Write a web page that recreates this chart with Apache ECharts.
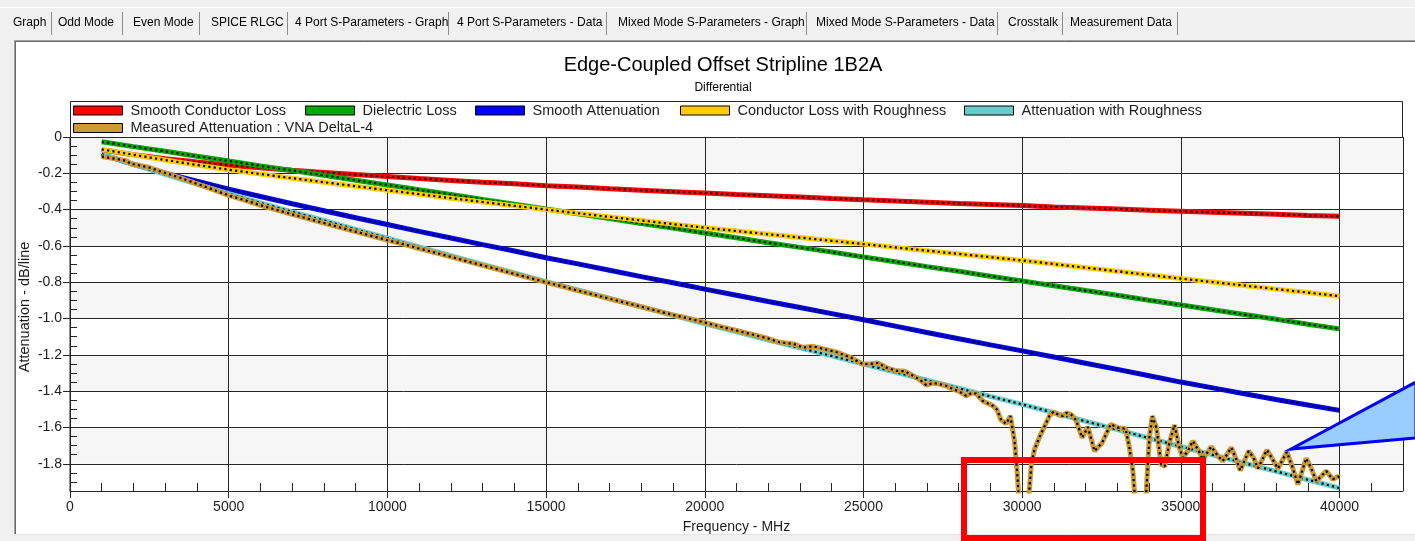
<!DOCTYPE html>
<html>
<head>
<meta charset="utf-8">
<script src="https://cdn.jsdelivr.net/npm/echarts@6/dist/echarts.min.js"></script>
<style>
html,body{margin:0;padding:0;background:#fff;}
#chart{width:1415px;height:541px;}
</style>
</head>
<body>
<div id="chart"></div>
<script>
// ---- tab strip ----
const tabLabels = ['Graph', 'Odd Mode', 'Even Mode', 'SPICE RLGC', '4 Port S-Parameters - Graph',
  '4 Port S-Parameters - Data', 'Mixed Mode S-Parameters - Graph', 'Mixed Mode S-Parameters - Data',
  'Crosstalk', 'Measurement Data'];

// ---- chart text ----
const chartTitle = 'Edge-Coupled Offset Stripline 1B2A';
const chartSubtitle = 'Differential';
const xAxisTitle = 'Frequency - MHz';
const yAxisTitle = 'Attenuation - dB/line';
const seriesNames = ['Smooth Conductor Loss', 'Dielectric Loss', 'Smooth Attenuation',
  'Conductor Loss with Roughness', 'Attenuation with Roughness', 'Measured Attenuation : VNA DeltaL-4'];

// ---- modelled curves (dB/line) ----
const modelFreqMHz = [1000, 2000, 3000, 4000, 5000, 6000, 7000, 8000, 9000, 10000,
  11000, 12000, 13000, 14000, 15000, 16000, 17000, 18000, 19000, 20000,
  21000, 22000, 23000, 24000, 25000, 26000, 27000, 28000, 29000, 30000,
  31000, 32000, 33000, 34000, 35000, 36000, 37000, 38000, 39000, 40000];
const smoothConductorLoss = [-0.070, -0.098, -0.120, -0.138, -0.155, -0.169, -0.183, -0.195, -0.207, -0.218,
  -0.229, -0.239, -0.249, -0.258, -0.268, -0.276, -0.285, -0.293, -0.301, -0.309,
  -0.317, -0.324, -0.331, -0.339, -0.346, -0.352, -0.359, -0.366, -0.372, -0.378,
  -0.385, -0.391, -0.397, -0.403, -0.409, -0.415, -0.420, -0.426, -0.432, -0.437];
const dielectricLoss = [-0.026, -0.053, -0.079, -0.106, -0.132, -0.159, -0.185, -0.211, -0.238, -0.264,
  -0.291, -0.317, -0.344, -0.370, -0.397, -0.423, -0.449, -0.476, -0.502, -0.529,
  -0.555, -0.582, -0.608, -0.634, -0.661, -0.687, -0.714, -0.740, -0.767, -0.793,
  -0.819, -0.846, -0.872, -0.899, -0.925, -0.952, -0.978, -1.004, -1.031, -1.057];
const smoothAttenuation = [-0.096, -0.151, -0.199, -0.244, -0.287, -0.328, -0.368, -0.406, -0.445, -0.482,
  -0.520, -0.556, -0.593, -0.628, -0.665, -0.699, -0.734, -0.769, -0.803, -0.838,
  -0.872, -0.906, -0.939, -0.973, -1.007, -1.042, -1.077, -1.111, -1.145, -1.178,
  -1.212, -1.246, -1.280, -1.315, -1.350, -1.382, -1.414, -1.446, -1.476, -1.506];
const conductorLossRough = [-0.068, -0.098, -0.127, -0.154, -0.180, -0.204, -0.227, -0.249, -0.271, -0.293,
  -0.315, -0.337, -0.358, -0.379, -0.400, -0.420, -0.440, -0.460, -0.480, -0.500,
  -0.518, -0.536, -0.554, -0.572, -0.590, -0.608, -0.626, -0.644, -0.662, -0.680,
  -0.700, -0.720, -0.740, -0.760, -0.780, -0.799, -0.818, -0.838, -0.857, -0.877];
const attenuationRough = [-0.094, -0.151, -0.206, -0.260, -0.312, -0.363, -0.412, -0.460, -0.509, -0.557,
  -0.606, -0.654, -0.702, -0.749, -0.797, -0.843, -0.889, -0.936, -0.982, -1.029,
  -1.073, -1.118, -1.162, -1.206, -1.251, -1.295, -1.340, -1.384, -1.429, -1.473,
  -1.519, -1.566, -1.612, -1.659, -1.705, -1.751, -1.796, -1.842, -1.888, -1.934];

// ---- VNA measurement (dB/line) ----
const measuredFreqMHz = [
  1000, 1500, 1800, 1900, 2000, 2500, 3000, 3500, 4000, 4500,
  5000, 5500, 6000, 6500, 7000, 7500, 8000, 8500, 9000, 9500,
  10000, 10500, 11000, 11500, 12000, 12500, 13000, 13500, 14000, 14500,
  15000, 15500, 16000, 16500, 17000, 17500, 18000, 18500, 19000, 19500,
  20000, 20500, 21000, 21500, 22000, 22360, 22800, 23100, 23410, 23800,
  24190, 24600, 24980, 25200, 25450, 25720, 26030, 26300, 26560, 26800,
  26980, 27200, 27400, 27600, 27820, 28000, 28240, 28400, 28550, 28760,
  29080, 29200, 29340, 29500, 29630, 29760, 29840, 29900, 30000, 30180,
  30290, 30390, 30550, 30710, 30860, 30990, 31140, 31280, 31400, 31550,
  31700, 31890, 32070, 32280, 32520, 32790, 33020, 33260, 33380, 33490,
  33560, 33720, 33880, 33960, 34010, 34100, 34230, 34380, 34490, 34640,
  34800, 34940, 35060, 35220, 35380, 35570, 35690, 35960, 36170, 36320,
  36590, 36750, 36870, 37140, 37290, 37430, 37710, 37880, 38060, 38340,
  38510, 38690, 38950, 39110, 39270, 39580, 39790, 39950, 40000];
const measuredAttenuation = [
  -0.108, -0.122, -0.132, -0.148, -0.150, -0.168, -0.198, -0.226, -0.258, -0.289,
  -0.322, -0.348, -0.376, -0.401, -0.426, -0.450, -0.474, -0.498, -0.521, -0.545,
  -0.568, -0.590, -0.614, -0.637, -0.660, -0.684, -0.707, -0.730, -0.754, -0.777,
  -0.800, -0.822, -0.846, -0.868, -0.891, -0.913, -0.935, -0.958, -0.980, -1.000,
  -1.022, -1.045, -1.066, -1.088, -1.110, -1.131, -1.140, -1.160, -1.153, -1.170,
  -1.187, -1.215, -1.251, -1.250, -1.245, -1.270, -1.288, -1.290, -1.315, -1.340,
  -1.367, -1.355, -1.361, -1.370, -1.389, -1.400, -1.426, -1.410, -1.413, -1.454,
  -1.481, -1.500, -1.560, -1.579, -1.537, -1.675, -1.840, -2.000, -2.300, -2.050,
  -1.803, -1.720, -1.652, -1.592, -1.537, -1.514, -1.530, -1.537, -1.520, -1.530,
  -1.560, -1.656, -1.597, -1.730, -1.684, -1.582, -1.601, -1.607, -1.711, -1.840,
  -2.000, -2.200, -2.050, -1.803, -1.656, -1.537, -1.601, -1.803, -1.815, -1.684,
  -1.586, -1.702, -1.767, -1.730, -1.675, -1.730, -1.776, -1.706, -1.757, -1.785,
  -1.711, -1.776, -1.837, -1.730, -1.767, -1.826, -1.724, -1.772, -1.826, -1.735,
  -1.815, -1.914, -1.770, -1.826, -1.896, -1.840, -1.886, -1.870, -1.875];

// ---- layout & style ----
const FONT = '"Liberation Sans", Arial, sans-serif';
const INK = '#1c1c1c';
const GRID_INK = '#262626';
const seriesColors = ['#ff0000', '#00a800', '#0000ff', '#ffcc00', '#66cccc', '#cc9933'];
const tabX = [13, 58, 133, 211, 295, 457, 618, 816, 1008, 1070];
const tabSepX = [51.5, 122.5, 199.5, 287.5, 448.5, 606.5, 806.5, 997.5, 1062.5, 1177.5];
const legendSlots = [[73, 102.5], [305, 102.5], [475, 102.5], [680, 102.5], [964, 102.5], [73, 120]];
const plot = { left: 70, top: 137, right: 1403, bottom: 491, legendTop: 101 };

const curveSets = [
  [modelFreqMHz, smoothConductorLoss],
  [modelFreqMHz, dielectricLoss],
  [modelFreqMHz, smoothAttenuation],
  [modelFreqMHz, conductorLossRough],
  [modelFreqMHz, attenuationRough],
  [measuredFreqMHz, measuredAttenuation]
];

const series = [];
curveSets.forEach(([xs, ys], i) => {
  const data = xs.map((f, k) => [f, ys[k]]);
  // coloured trace
  series.push({
    name: seriesNames[i], type: 'line', data, showSymbol: false, animation: false,
    color: seriesColors[i], itemStyle: { color: seriesColors[i] },
    lineStyle: { color: seriesColors[i], width: 5 }, emphasis: { disabled: true }
  });
  // black sample dots running along the trace
  series.push({
    name: seriesNames[i], type: 'line', data, showSymbol: false, animation: false, silent: true,
    itemStyle: { color: seriesColors[i] },
    lineStyle: { color: '#000', width: 2.2, type: [2.2, 3.2] }, emphasis: { disabled: true }
  });
});

const legends = seriesNames.map((name, i) => ({
  data: [name], left: legendSlots[i][0], top: legendSlots[i][1], padding: 0,
  icon: 'rect', itemWidth: 49, itemHeight: 9, selectedMode: false,
  itemStyle: { borderColor: '#000', borderWidth: 1 },
  textStyle: { fontFamily: FONT, fontSize: 14.5, color: INK, lineHeight: 16, padding: [0, 0, 0, 3] }
}));

const graphics = [
  // window chrome around the graph panel
  { type: 'rect', shape: { x: 0, y: 0, width: 1415, height: 40 }, style: { fill: '#f0f0f0' }, silent: true },
  { type: 'rect', shape: { x: 0, y: 0, width: 14, height: 541 }, style: { fill: '#f0f0f0' }, silent: true },
  { type: 'rect', shape: { x: 0, y: 535, width: 1415, height: 6 }, style: { fill: '#f0f0f0' }, silent: true },
  { type: 'line', shape: { x1: 0, y1: 7.5, x2: 1415, y2: 7.5 }, style: { stroke: '#ffffff', lineWidth: 1 }, silent: true },
  { type: 'line', shape: { x1: 14, y1: 40.5, x2: 1415, y2: 40.5 }, style: { stroke: '#a0a0a0', lineWidth: 1 }, silent: true },
  { type: 'line', shape: { x1: 15, y1: 41.5, x2: 1415, y2: 41.5 }, style: { stroke: '#696969', lineWidth: 1 }, silent: true },
  { type: 'line', shape: { x1: 14.5, y1: 40, x2: 14.5, y2: 535 }, style: { stroke: '#a0a0a0', lineWidth: 1 }, silent: true },
  { type: 'line', shape: { x1: 15.5, y1: 41, x2: 15.5, y2: 535 }, style: { stroke: '#696969', lineWidth: 1 }, silent: true },
  { type: 'line', shape: { x1: 14, y1: 534.5, x2: 1415, y2: 534.5 }, style: { stroke: '#e3e3e3', lineWidth: 1 }, silent: true },
  // legend band framed on top of the plot area
  { type: 'rect', shape: { x: plot.left + 0.5, y: plot.legendTop + 0.5, width: plot.right - plot.left - 1, height: plot.top - plot.legendTop },
    style: { fill: '#fff', stroke: GRID_INK, lineWidth: 1 }, silent: true },
  // vertical axis title
  { type: 'text', x: 25, y: 307, rotation: Math.PI / 2, silent: true,
    style: { text: yAxisTitle, fontFamily: FONT, fontSize: 14.5, fill: INK, align: 'center', verticalAlign: 'middle' } },
  // highlight frame and callout
  { type: 'rect', z: 100, shape: { x: 964, y: 460, width: 239, height: 78 },
    style: { fill: 'none', stroke: '#ff0000', lineWidth: 6 }, silent: true },
  { type: 'polygon', z: 100, shape: { points: [[1291, 449], [1416, 382], [1416, 438]] },
    style: { fill: '#99ccff', stroke: '#0000ff', lineWidth: 3, lineJoin: 'miter' }, silent: true }
];
tabLabels.forEach((t, i) => {
  graphics.push({ type: 'text', x: tabX[i], y: 23, silent: true,
    style: { text: t, fontFamily: FONT, fontSize: 12, fill: '#000', verticalAlign: 'middle' } });
  graphics.push({ type: 'line', silent: true, shape: { x1: tabSepX[i], y1: 12, x2: tabSepX[i], y2: 35 },
    style: { stroke: '#8c8c8c', lineWidth: 1 } });
});

const chart = echarts.init(document.getElementById('chart'), null, { renderer: 'canvas' });
chart.setOption({
  backgroundColor: '#ffffff',
  animation: false,
  title: {
    text: chartTitle, subtext: chartSubtitle, left: 723, top: 55, textAlign: 'center', itemGap: 7, padding: 0,
    textStyle: { fontFamily: FONT, fontSize: 20, fontWeight: 'normal', color: '#000' },
    subtextStyle: { fontFamily: FONT, fontSize: 12, color: '#000' }
  },
  legend: legends,
  grid: {
    left: plot.left, top: plot.top, width: plot.right - plot.left, height: plot.bottom - plot.top,
    show: true, backgroundColor: '#fff', borderColor: GRID_INK, borderWidth: 1, containLabel: false,
    outerBoundsMode: 'none'
  },
  xAxis: [
    {
      type: 'value', min: 0, max: 42000, interval: 5000, position: 'bottom',
      name: xAxisTitle, nameLocation: 'middle', nameGap: 29,
      nameTextStyle: { fontFamily: FONT, fontSize: 14, color: INK },
      axisLine: { show: true, onZero: false, lineStyle: { color: GRID_INK, width: 1 } },
      axisTick: { show: true, inside: false, length: 7, lineStyle: { color: GRID_INK, width: 1 } },
      axisLabel: { show: true, margin: 9, fontFamily: FONT, fontSize: 14, color: INK, showMaxLabel: false,
        formatter: v => (v > 40000 ? '' : String(v)) },
      splitLine: { show: true, lineStyle: { color: GRID_INK, width: 1 } },
      splitArea: { show: false }
    },
    {
      type: 'value', min: 0, max: 42000, interval: 1000, position: 'bottom',
      axisLine: { show: false, onZero: false },
      axisTick: { show: true, inside: true, length: 8, lineStyle: { color: GRID_INK, width: 1 } },
      axisLabel: { show: false }, splitLine: { show: false }, splitArea: { show: false }
    }
  ],
  yAxis: [
    {
      type: 'value', min: -1.95, max: 0, splitNumber: 10, position: 'left',
      axisLine: { show: true, onZero: false, lineStyle: { color: GRID_INK, width: 1 } },
      axisTick: { show: true, inside: false, length: 7, lineStyle: { color: GRID_INK, width: 1 } },
      axisLabel: { show: true, margin: 8, fontFamily: FONT, fontSize: 14, color: INK, showMinLabel: false,
        formatter: v => {
          const k = v * 5;
          if (Math.abs(k - Math.round(k)) > 1e-6) return '';
          return Math.abs(v) < 1e-9 ? '0' : v.toFixed(1);
        } },
      splitLine: { show: true, lineStyle: { color: GRID_INK, width: 1 } },
      splitArea: { show: true, areaStyle: { color: ['#ffffff', '#f6f6f6'] } }
    },
    {
      type: 'value', min: -1.95, max: 0, interval: 0.05, position: 'left',
      axisLine: { show: false, onZero: false },
      axisTick: { show: true, inside: true, length: 7, lineStyle: { color: GRID_INK, width: 1 } },
      axisLabel: { show: false }, splitLine: { show: false }, splitArea: { show: false }
    }
  ],
  tooltip: { show: false },
  series,
  graphic: { elements: graphics }
});
</script>
</body>
</html>
